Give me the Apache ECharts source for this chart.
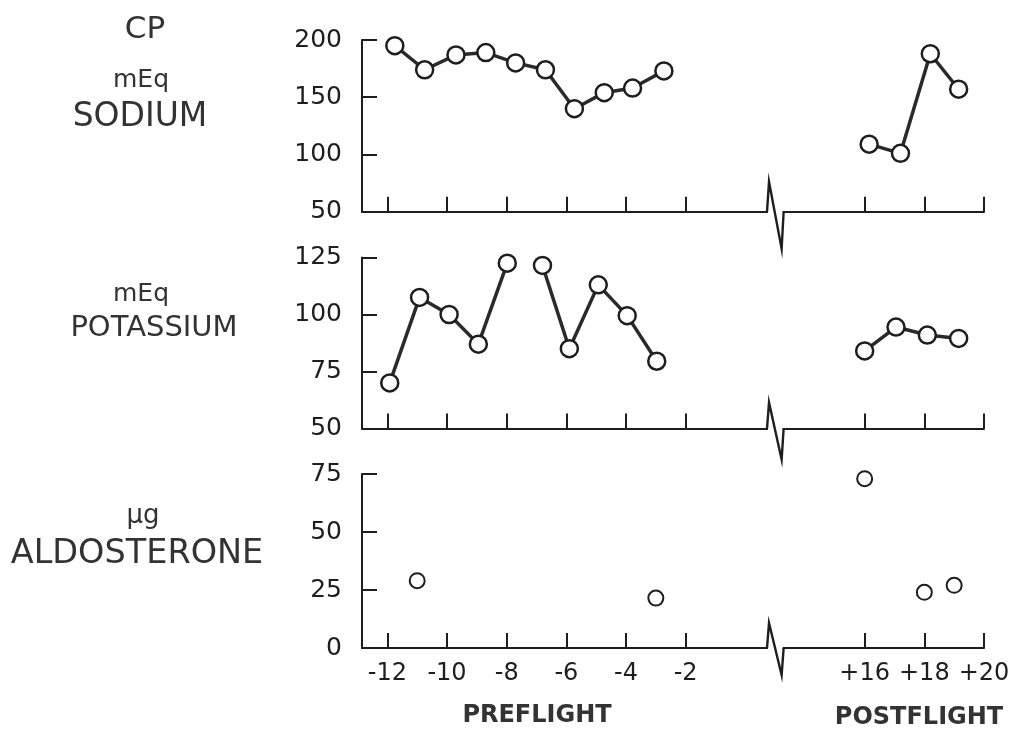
<!DOCTYPE html>
<html>
<head>
<meta charset="utf-8">
<script src="https://cdn.jsdelivr.net/npm/echarts@6/dist/echarts.min.js"></script>
<style>
html,body{margin:0;padding:0;background:#fff;}
#chart{width:1016px;height:732px;}
</style>
</head>
<body>
<div id="chart"></div>
<script>
// ---- data (study day, value) ----
const SODIUM_PRE_DAYS = [-11.75, -10.75, -9.7, -8.7, -7.7, -6.7, -5.73, -4.73, -3.78, -2.73];
const SODIUM_PRE = [195, 174, 187, 189, 180, 174, 140, 154, 158, 173];
const SODIUM_POST_DAYS = [16.15, 17.2, 18.2, 19.15];
const SODIUM_POST = [109, 101, 188, 157];

const POTASSIUM_PRE_A_DAYS = [-11.92, -10.92, -9.93, -8.95, -7.98];
const POTASSIUM_PRE_A = [70, 107.5, 100, 87, 122.5];
const POTASSIUM_PRE_B_DAYS = [-6.8, -5.9, -4.93, -3.96, -2.97];
const POTASSIUM_PRE_B = [121.5, 85, 113, 99.5, 79.5];
const POTASSIUM_POST_DAYS = [16, 17.05, 18.1, 19.15];
const POTASSIUM_POST = [84, 94.5, 91, 89.5];

const ALDO_DAYS = [-11, -3, 16, 18, 19];
const ALDO = [29, 21.5, 73, 24, 27];

const X_TICK_DAYS = [-12, -10, -8, -6, -4, -2, 16, 18, 20];
const Y_TICKS_SODIUM = [50, 100, 150, 200];
const Y_TICKS_POTASSIUM = [50, 75, 100, 125];
const Y_TICKS_ALDO = [0, 25, 50, 75];

// ---- axis break: postflight days are shifted left on the axis ----
const POST_SHIFT = 12;
const toAxis = d => (d > 0 ? d - POST_SHIFT : d);
const fromAxis = v => (v > 0 ? v + POST_SHIFT : v);
const pairs = (days, vals) => days.map((d, i) => [toAxis(d), vals[i]]);

const INK = '#1e1e1e';
const LABEL_INK = '#333';
const FONT = '"DejaVu Sans", sans-serif';

const grids = [
  { left: 362, width: 622, top: 40, height: 171.7 },
  { left: 362, width: 622, top: 257.5, height: 171 },
  { left: 362, width: 622, top: 474, height: 174 }
];

const xTickPos = X_TICK_DAYS.map(toAxis);
function xAxis(i, showLabels) {
  return {
    type: 'value', gridIndex: i, min: -12.85, max: 8,
    axisLine: { show: true, onZero: false, lineStyle: { color: INK, width: 2 } },
    axisTick: { show: true, inside: true, length: 15, customValues: xTickPos, lineStyle: { color: INK, width: 2 } },
    axisLabel: {
      show: showLabels, customValues: xTickPos, margin: 14,
      color: INK, fontSize: 24, fontFamily: FONT,
      formatter: v => { const d = Math.round(fromAxis(v)); return d > 0 ? '+' + d : String(d); }
    },
    splitLine: { show: false }
  };
}
function yAxis(i, ticks) {
  const step = ticks[1] - ticks[0];
  return {
    type: 'value', gridIndex: i, min: ticks[0], max: ticks[ticks.length - 1], interval: step,
    axisLine: { show: true, onZero: false, lineStyle: { color: INK, width: 2 } },
    axisTick: { show: true, inside: true, length: 15, lineStyle: { color: INK, width: 2 } },
    axisLabel: { margin: 20, color: INK, fontSize: 25, fontFamily: FONT },
    splitLine: { show: false }
  };
}

function lineSeries(i, data) {
  return {
    type: 'line', xAxisIndex: i, yAxisIndex: i, data,
    symbol: 'circle', symbolSize: 17,
    lineStyle: { color: '#2a2a2a', width: 3.5 },
    itemStyle: { color: '#fff', borderColor: INK, borderWidth: 2.5 },
    z: 3
  };
}

// zigzag marking the break on each horizontal axis
const BREAK_FROM = 0.76, BREAK_TO = 1.25;
const ZIG_UP = [30, 26, 25], ZIG_DOWN = [37, 31, 27];
function breakSeries(i, yMin) {
  return {
    type: 'custom', xAxisIndex: i, yAxisIndex: i, clip: false, silent: true, z: 5,
    data: [[BREAK_FROM, BREAK_TO, yMin]],
    renderItem: (params, api) => {
      const a = api.coord([api.value(0), api.value(2)]);
      const b = api.coord([api.value(1), api.value(2)]);
      return {
        type: 'group',
        children: [
          { type: 'line', shape: { x1: a[0], y1: a[1], x2: b[0], y2: b[1] }, style: { stroke: '#fff', lineWidth: 6 } },
          { type: 'polyline', shape: { points: [[a[0] - 1, a[1]], [a[0] + 1, a[1] - ZIG_UP[i]], [b[0] - 1, b[1] + ZIG_DOWN[i]], [b[0] + 1, b[1]]] },
            style: { stroke: INK, lineWidth: 2.4, fill: null, lineJoin: 'miter' } }
        ]
      };
    }
  };
}

function txt(x, y, text, size, weight) {
  return { type: 'text', x, y, style: { text, fill: LABEL_INK, fontSize: size, fontFamily: FONT, fontWeight: weight || 'normal', align: 'center', verticalAlign: 'middle' } };
}

const chart = echarts.init(document.getElementById('chart'), null, { renderer: 'canvas' });
chart.setOption({
  animation: false,
  backgroundColor: '#fff',
  grid: grids,
  xAxis: [xAxis(0, false), xAxis(1, false), xAxis(2, true)],
  yAxis: [yAxis(0, Y_TICKS_SODIUM), yAxis(1, Y_TICKS_POTASSIUM), yAxis(2, Y_TICKS_ALDO)],
  series: [
    lineSeries(0, pairs(SODIUM_PRE_DAYS, SODIUM_PRE)),
    lineSeries(0, pairs(SODIUM_POST_DAYS, SODIUM_POST)),
    lineSeries(1, pairs(POTASSIUM_PRE_A_DAYS, POTASSIUM_PRE_A)),
    lineSeries(1, pairs(POTASSIUM_PRE_B_DAYS, POTASSIUM_PRE_B)),
    lineSeries(1, pairs(POTASSIUM_POST_DAYS, POTASSIUM_POST)),
    {
      type: 'scatter', xAxisIndex: 2, yAxisIndex: 2, data: pairs(ALDO_DAYS, ALDO),
      symbol: 'circle', symbolSize: 15,
      itemStyle: { color: '#fff', borderColor: INK, borderWidth: 2, opacity: 1 }
    },
    breakSeries(0, Y_TICKS_SODIUM[0]),
    breakSeries(1, Y_TICKS_POTASSIUM[0]),
    breakSeries(2, Y_TICKS_ALDO[0])
  ],
  graphic: [
    txt(145, 30, 'CP', 31),
    txt(141, 80, 'mEq', 25),
    txt(140, 117, 'SODIUM', 33),
    txt(141, 294, 'mEq', 25),
    txt(154, 328, 'POTASSIUM', 29),
    txt(143, 516, 'μg', 26),
    txt(137, 554, 'ALDOSTERONE', 33.5),
    txt(537, 716, 'PREFLIGHT', 24, 'bold'),
    txt(919, 718, 'POSTFLIGHT', 24, 'bold')
  ]
});
</script>
</body>
</html>
